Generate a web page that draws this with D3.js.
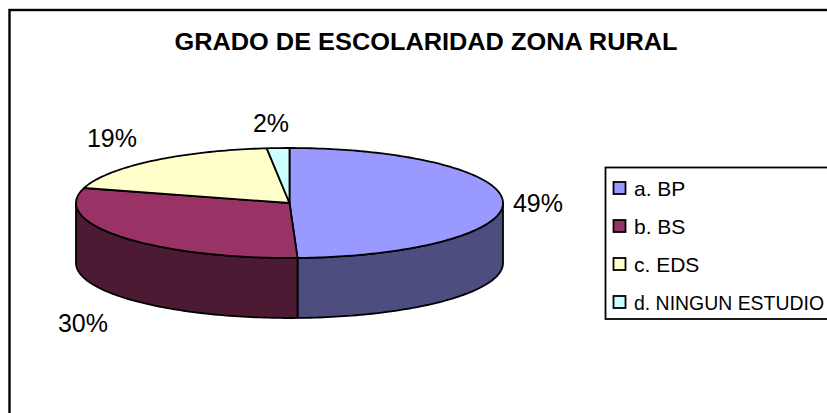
<!DOCTYPE html>
<html><head><meta charset="utf-8">
<script src="https://cdn.jsdelivr.net/npm/d3@7"></script>
<style>html,body{margin:0;padding:0;background:#fff;overflow:hidden}svg{display:block}text{font-family:"Liberation Sans",Arial,sans-serif;fill:#000}</style>
</head><body><svg id="c" width="827" height="413"></svg>
<script>
const categories=["a. BP","b. BS","c. EDS","d. NINGUN ESTUDIO"];
const values=[49.4,30,18.9,1.7];
const percentLabels=["49%","30%","19%","2%"];
const topColors=["#9999ff","#993366","#ffffcc","#ccffff"];
const sideColors=["#4d4d80","#4d1a33","#808066","#668080"];
const labelPositions=[[538,212],[83,332],[112,147],[271,132]];

const svg=d3.select("#c");
const W=827,H=413,cx=289.5,cy=203,rx=213.5,ry=55,depth=60;
svg.append("rect").attr("x",9.5).attr("y",10).attr("width",W+20).attr("height",H+20)
  .attr("fill","#fff").attr("stroke","#000").attr("stroke-width",2.4);
svg.append("text").attr("x",426).attr("y",49.5).attr("text-anchor","middle")
  .attr("font-size",24).attr("font-weight","bold").attr("textLength",503).attr("lengthAdjust","spacingAndGlyphs")
  .text("GRADO DE ESCOLARIDAD ZONA RURAL");

const pie=d3.pie().sort(null)(values);
const px=d3.scaleLinear().domain([-1,1]).range([cx-rx,cx+rx]);
const py=d3.scaleLinear().domain([-1,1]).range([cy-ry,cy+ry]);
const pt=(a,dy=0)=>[px(Math.sin(a)),py(-Math.cos(a))+dy];
const line=d3.line();
function arcPts(a0,a1,dy=0){
  const n=Math.max(2,Math.ceil((a1-a0)/0.02));
  return d3.range(n+1).map(i=>pt(a0+(a1-a0)*i/n,dy));
}
// Side walls (only the visible front half, pi/2 .. 3pi/2)
pie.forEach((d,i)=>{
  const a0=Math.max(d.startAngle,Math.PI/2),a1=Math.min(d.endAngle,3*Math.PI/2);
  if(a1<=a0)return;
  const top=arcPts(a0,a1),bot=arcPts(a0,a1,depth).reverse();
  svg.append("path").attr("d",line(top.concat(bot))+"Z")
    .attr("fill",sideColors[i]).attr("stroke","#000").attr("stroke-width",1.8).attr("stroke-linejoin","round");
});
// Top face
pie.forEach((d,i)=>{
  svg.append("path").attr("d",line([[cx,cy]].concat(arcPts(d.startAngle,d.endAngle)))+"Z")
    .attr("fill",topColors[i]).attr("stroke","#000").attr("stroke-width",1.8).attr("stroke-linejoin","round");
});
// Percent labels
percentLabels.forEach((t,i)=>{
  svg.append("text").attr("x",labelPositions[i][0]).attr("y",labelPositions[i][1])
    .attr("text-anchor","middle").attr("font-size",25).text(t);
});
// Legend
svg.append("rect").attr("x",605.5).attr("y",167.5).attr("width",W).attr("height",151.5)
  .attr("fill","#fff").attr("stroke","#000").attr("stroke-width",1.8);
const ly=d3.scalePoint().domain(categories).range([188,302]);
categories.forEach((c,i)=>{
  svg.append("rect").attr("x",613.5).attr("y",ly(c)-6).attr("width",12).attr("height",12)
    .attr("fill",topColors[i]).attr("stroke","#000").attr("stroke-width",1.8);
  const t=svg.append("text").attr("x",634).attr("y",ly(c)+7.5).attr("font-size",i===3?19.6:21).text(c);
  if(i===3)t.attr("textLength",190).attr("lengthAdjust","spacingAndGlyphs");
});
</script></body></html>
